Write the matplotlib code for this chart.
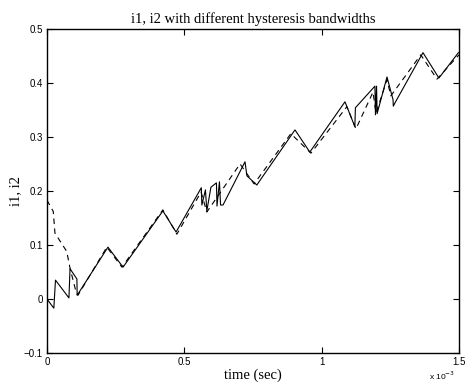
import matplotlib
matplotlib.use("Agg")
import matplotlib.pyplot as plt

# i1 (solid, narrow band) and i2 (dashed, wide band); time in ms
t1_ms = [0.000, 0.025, 0.031, 0.080, 0.084, 0.109, 0.110, 0.222, 0.277, 0.422,
         0.470, 0.562, 0.564, 0.577, 0.582, 0.597, 0.617, 0.619, 0.628, 0.632,
         0.641, 0.721, 0.728, 0.764, 0.903, 0.957, 1.085, 1.121, 1.123, 1.194,
         1.196, 1.200, 1.202, 1.238, 1.260, 1.261, 1.267, 1.369, 1.427, 1.498]
i1 = [0.000, -0.017, 0.035, 0.002, 0.056, 0.037, 0.007, 0.096, 0.059, 0.163,
      0.124, 0.206, 0.174, 0.202, 0.163, 0.207, 0.215, 0.172, 0.217, 0.174,
      0.174, 0.254, 0.228, 0.211, 0.313, 0.272, 0.365, 0.319, 0.354, 0.394,
      0.341, 0.394, 0.343, 0.411, 0.369, 0.357, 0.363, 0.456, 0.409, 0.456]

t2_ms = [0.000, 0.023, 0.029, 0.072, 0.084, 0.107, 0.113, 0.218, 0.273, 0.422,
         0.473, 0.561, 0.582, 0.703, 0.754, 0.888, 0.961, 1.092, 1.125, 1.187,
         1.198, 1.238, 1.252, 1.361, 1.420, 1.500]
i2 = [0.183, 0.162, 0.122, 0.088, 0.057, 0.011, 0.007, 0.096, 0.059, 0.165,
      0.120, 0.198, 0.161, 0.250, 0.213, 0.306, 0.270, 0.356, 0.315, 0.383,
      0.344, 0.406, 0.376, 0.452, 0.407, 0.452]

x_ticks = [0, 0.5, 1, 1.5]
x_tick_labels = ["0", "0.5", "1", "1.5"]
y_ticks = [-0.1, 0, 0.1, 0.2, 0.3, 0.4, 0.5]
y_tick_labels = ["\u22120.1", "0", "0.1", "0.2", "0.3", "0.4", "0.5"]

fig = plt.figure(figsize=(4.65, 3.85), dpi=100)
ax = fig.add_axes([0.101, 0.083, 0.886, 0.842])

ax.plot(t1_ms, i1, color="black", linewidth=0.8)
ax.plot(t2_ms, i2, color="black", linewidth=0.8, dashes=(5, 4))

ax.set_xlim(0, 1.5)
ax.set_ylim(-0.1, 0.5)
ax.set_xticks(x_ticks)
ax.set_xticklabels(x_tick_labels, fontsize=7, family="Liberation Sans")
ax.set_yticks(y_ticks)
ax.set_yticklabels(y_tick_labels, fontsize=7, family="Liberation Sans")
ax.tick_params(direction="in", top=True, right=True, length=4, width=0.8, pad=3)
for s in ax.spines.values():
    s.set_linewidth(1.0)

ax.set_title("i1, i2 with different hysteresis bandwidths", fontsize=10.5,
             family="Liberation Serif", pad=4)
ax.set_xlabel("time (sec)", fontsize=10.5, family="Liberation Serif", labelpad=1)
ax.set_ylabel("i1, i2", fontsize=10.5, family="Liberation Serif", labelpad=1)

fig.text(0.922, 0.013, "x 10$^{-3}$", fontsize=6, family="Liberation Sans")

fig.savefig("out.png", dpi=100)
